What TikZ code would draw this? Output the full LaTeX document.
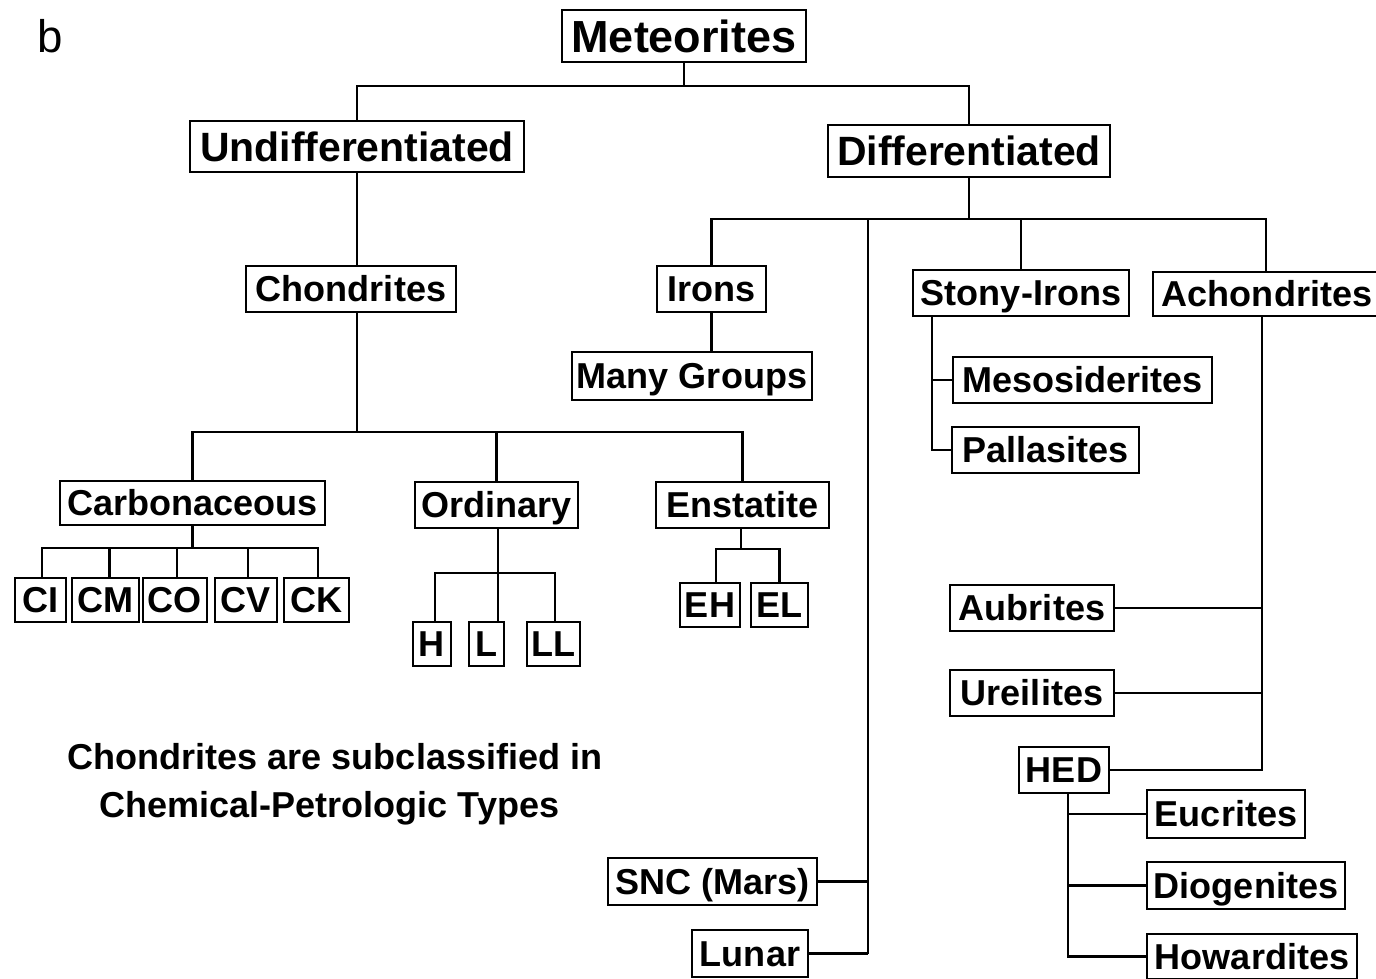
\documentclass[tikz,border=0pt]{standalone}
\usepackage{fontspec}
\setmainfont{Liberation Sans}
\begin{document}
\begin{tikzpicture}[x=0.02cm,y=-0.02cm,
  line width=1.6pt,
  bx/.style 2 args={draw, line width=1.6pt, inner sep=0pt, minimum width=#1*0.02cm, minimum height=#2*0.02cm, text height=14.7pt, text depth=0pt, font=\fontsize{20.5}{24}\selectfont\bfseries},
  bigtxt/.style={text height=16.7pt, font=\fontsize{23.3}{27}\selectfont\bfseries},
  hugetxt/.style={text height=18.3pt, font=\fontsize{25.6}{30}\selectfont\bfseries},
  captxt/.style={inner sep=0pt, font=\fontsize{20.5}{24}\selectfont\bfseries}]
\useasboundingbox (0,0) rectangle (1376,979);
\node[inner sep=0pt, font=\fontsize{26}{30}\selectfont] (lbl) at (50,36) {b};
% top levels
\node[bx={244}{52}, hugetxt] (met) at (684,36) {Meteorites};
\node[bx={334}{51}, bigtxt] (und) at (357,146.5) {Undifferentiated};
\node[bx={282}{52}, bigtxt] (dif) at (969,151) {Differentiated};
\node[bx={210}{46}] (chon) at (351,289) {Chondrites};
\node[bx={109}{46}] (irons) at (711.5,289) {Irons};
\node[bx={240}{48}] (many) at (692,376) {Many Groups};
\node[bx={216}{46}] (stony) at (1021,293) {Stony-Irons};
\node[bx={228}{44}] (achon) at (1267,294) {Achondrites};
\node[bx={259}{46}] (meso) at (1082.5,380) {Mesosiderites};
\node[bx={187}{46}] (pall) at (1045.5,450) {Pallasites};
\node[bx={164}{46}] (aub) at (1032,608) {Aubrites};
\node[bx={164}{46}] (ure) at (1032,693) {Ureilites};
\node[bx={90}{46}] (hed) at (1064,770) {HED};
\node[bx={158}{48}] (euc) at (1226,814) {Eucrites};
\node[bx={198}{47}] (dio) at (1246,885.5) {Diogenites};
\node[bx={210}{45}] (how) at (1252,956.5) {Howardites};
\node[bx={209}{47}] (snc) at (712.5,881.5) {SNC (Mars)};
\node[bx={116}{47}] (lunar) at (750,953.5) {Lunar};
% chondrite classes
\node[bx={265}{44}] (carb) at (192.5,503) {Carbonaceous};
\node[bx={163}{46}] (ord) at (496.5,505) {Ordinary};
\node[bx={173}{46}] (ens) at (742.5,505) {Enstatite};
\node[bx={51}{44}] (ci) at (40.5,600) {CI};
\node[bx={67}{44}] (cm) at (105.5,600) {CM};
\node[bx={64}{44}] (co) at (175,600) {CO};
\node[bx={62}{44}] (cv) at (246,600) {CV};
\node[bx={65}{44}] (ck) at (316.5,600) {CK};
\node[bx={38}{44}] (h) at (432,644) {H};
\node[bx={35}{44}] (l) at (486.5,644) {L};
\node[bx={53}{44}] (ll) at (553.5,644) {LL};
\node[bx={60}{44}] (eh) at (710,605) {EH};
\node[bx={57}{44}] (el) at (779.5,605) {EL};
% caption
\node[captxt] (cap1) at (335,757) {Chondrites are subclassified in};
\node[captxt] (cap2) at (329.5,808) {Chemical-Petrologic Types};
% bus coordinates
\coordinate (b1) at (684,86);
\coordinate (b2) at (357,432);
\coordinate (b3) at (192.5,548);
\coordinate (b4) at (498,573);
\coordinate (b5) at (741,549);
\coordinate (b6) at (969,219);
\coordinate (sn) at (868,219);
\coordinate (st) at (932,316);
\coordinate (ac) at (1262,316);
\coordinate (hd) at (1068,793);
% connectors
\draw (met.south) -- (b1);
\draw (und.north) -- (und.north |- b1) -- (dif.north |- b1) -- (dif.north);
\draw (und.south) -- (und.south |- chon.north);
\draw (und.south |- chon.south) -- (und.south |- b2);
\draw (carb.north) -- (carb.north |- b2) -- (ens.north |- b2) -- (ens.north);
\draw (ord.north |- b2) -- (ord.north);
\draw (carb.south) -- (b3);
\draw ([xshift=1.5*0.02cm]ci.north) |- ([xshift=1.5*0.02cm]ck.north |- b3) -- ([xshift=1.5*0.02cm]ck.north);
\draw ([xshift=4*0.02cm]cm.north) -- ([xshift=4*0.02cm]cm.north |- b3);
\draw ([xshift=2*0.02cm]co.north) -- ([xshift=2*0.02cm]co.north |- b3);
\draw ([xshift=2*0.02cm]cv.north) -- ([xshift=2*0.02cm]cv.north |- b3);
\draw (ord.south -| b4) -- (b4 |- l.north);
\draw ([xshift=3*0.02cm]h.north) |- (b4) -| ([xshift=1.5*0.02cm]ll.north);
\draw (ens.south -| b5) -- (b5);
\draw ([xshift=6*0.02cm]eh.north) |- (b5) -| (el.north);
\draw (dif.south) -- (b6);
\draw (irons.north) -- (irons.north |- b6) -- ([xshift=-1*0.02cm]achon.north |- b6) -- ([xshift=-1*0.02cm]achon.north);
\draw (stony.north |- b6) -- (stony.north);
\draw (irons.south) -- (irons.south |- many.north);
\draw (sn) -- (sn |- lunar.east);
\draw (snc.east) -- (snc.east -| sn);
\draw (lunar.east) -- (lunar.east -| sn);
\draw (st) |- (pall.west);
\draw (st |- meso.west) -- (meso.west);
\draw (ac) |- (hed.east);
\draw (aub.east) -- (aub.east -| ac);
\draw (ure.east) -- (ure.east -| ac);
\draw (hd) |- (how.west);
\draw (hd |- euc.west) -- (euc.west);
\draw (hd |- dio.west) -- (dio.west);
\end{tikzpicture}
\end{document}
